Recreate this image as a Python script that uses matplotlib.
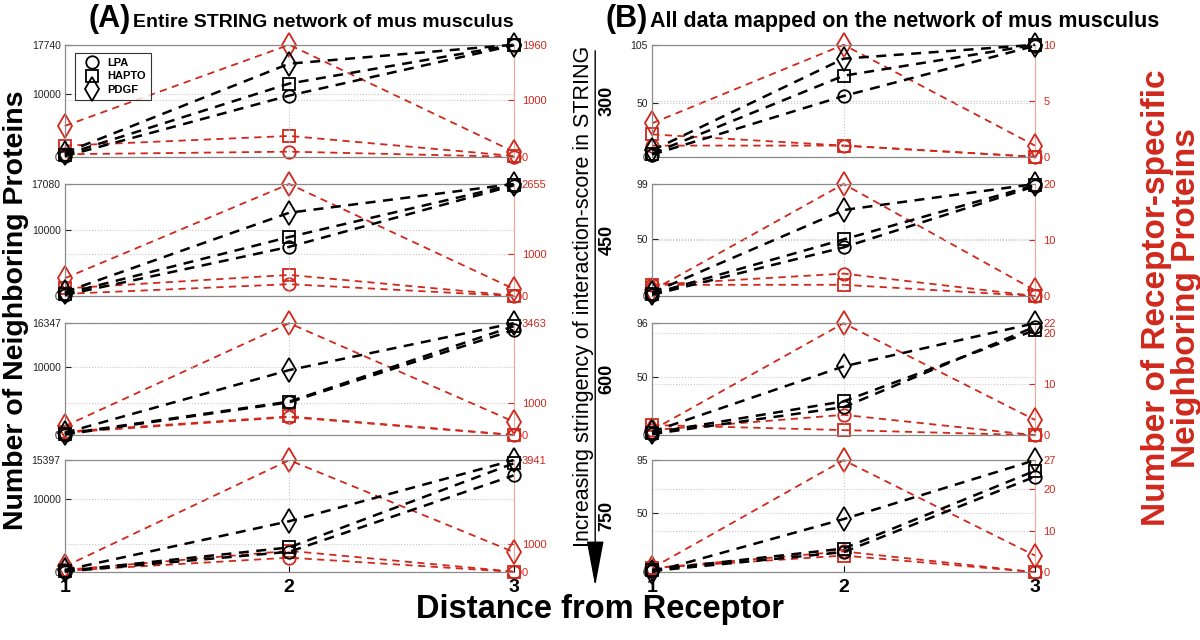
import matplotlib
matplotlib.use("Agg")
import matplotlib.pyplot as plt
from matplotlib.lines import Line2D
from matplotlib.patches import FancyArrowPatch

plt.rcParams['font.family'] = ['Liberation Sans', 'DejaVu Sans']

distance = [1, 2, 3]
thresholds = ['300', '450', '600', '750']
receptors = ['LPA', 'HAPTO', 'PDGF']

# panel A: entire STRING network, one row per threshold
a_lpa = [[100, 9700, 17650], [150, 7500, 16850], [100, 4800, 15350], [80, 2800, 13300]]
a_hapto = [[350, 11600, 17740], [350, 9000, 17000], [200, 4900, 15900], [150, 3400, 14950]]
a_pdgf = [[650, 14750, 17740], [600, 12700, 17080], [350, 9500, 16347], [300, 7000, 15397]]
a_lpa_spec = [[45, 90, 0], [50, 280, 0], [80, 560, 5], [50, 510, 10]]
a_hapto_spec = [[195, 365, 15], [180, 500, 10], [110, 580, 10], [80, 750, 20]]
a_pdgf_spec = [[540, 1960, 90], [420, 2655, 170], [280, 3463, 420], [200, 3941, 710]]
a_left_max = [17740, 17080, 16347, 15397]
a_right_max = [1960, 2655, 3463, 3941]

# panel B: all data mapped on the network
b_lpa = [[2, 57, 104], [1, 43, 97], [1, 24, 93], [1, 17, 81]]
b_hapto = [[3, 76, 105], [2, 50, 98], [2, 29, 90], [2, 20, 86]]
b_pdgf = [[6, 92, 105], [3, 76, 99], [3, 59, 96], [0, 45, 95]]
b_lpa_spec = [[1, 1, 0], [2, 4, 0], [1, 4, 0], [1, 5, 0]]
b_hapto_spec = [[2, 1, 0], [2, 2, 0], [2, 1, 0], [1, 4, 0]]
b_pdgf_spec = [[3, 10, 1], [1, 20, 1], [1, 22, 3], [1, 27, 4]]
b_left_max = [105, 99, 96, 95]
b_right_max = [10, 20, 22, 27]

RED = '#d0281c'
markers = ['o', 's', 'd']
msizes = [9, 8, 12]

fig = plt.figure(figsize=(12, 6.4), dpi=100)

row_bottom = [0.755, 0.5375, 0.320, 0.106]
row_h = 0.175
panels = [
    dict(left=0.054, width=0.374, black=[a_lpa, a_hapto, a_pdgf],
         red=[a_lpa_spec, a_hapto_spec, a_pdgf_spec],
         lmax=a_left_max, rmax=a_right_max, lstep=10000, rstep=[1000] * 4),
    dict(left=0.5435, width=0.319, black=[b_lpa, b_hapto, b_pdgf],
         red=[b_lpa_spec, b_hapto_spec, b_pdgf_spec],
         lmax=b_left_max, rmax=b_right_max, lstep=50, rstep=[5, 10, 10, 10]),
]

for p_i, p in enumerate(panels):
    for r in range(4):
        ax = fig.add_axes([p['left'], row_bottom[r], p['width'], row_h])
        ax2 = ax.twinx()
        for k in range(3):
            ax2.plot(distance, p['red'][k][r], ls=(0, (4, 3)), lw=1.3, color=RED,
                     marker=markers[k], ms=msizes[k], mfc='none', mec=RED, mew=1.3,
                     clip_on=False, zorder=3)
            ax.plot(distance, p['black'][k][r], ls=(0, (4, 3)), lw=1.8, color='black',
                    marker=markers[k], ms=msizes[k], mfc='none', mec='black', mew=1.3,
                    clip_on=False, zorder=3)
        lmax = p['lmax'][r]
        rmax = p['rmax'][r]
        ax.set_xlim(1, 3)
        ax.set_ylim(0, lmax)
        ax2.set_ylim(0, rmax)
        ax.set_yticks([0, p['lstep'], lmax])
        ax.set_yticklabels(['0', str(p['lstep']), str(lmax)])
        step = p['rstep'][r]
        if p_i == 0:
            rt = [0, step, rmax]
        else:
            rt = sorted(set(list(range(0, rmax + 1, step)) + [rmax]))
        ax2.set_yticks(rt)
        ax.set_xticks(distance)
        ax.grid(True, ls=':', color='#c8c8c8', lw=0.8)
        ax2.grid(True, axis='y', ls=':', color='#c8c8c8', lw=0.8)
        ax.set_axisbelow(True)
        ax.tick_params(axis='y', direction='in', length=4, labelsize=7.5, pad=3, colors='#222222')
        ax2.tick_params(axis='y', direction='in', length=4, labelsize=8, pad=6,
                        colors=RED, labelcolor=RED)
        if r == 3:
            ax.tick_params(axis='x', direction='in', length=4, labelsize=14, pad=5)
            for lbl in ax.get_xticklabels():
                lbl.set_fontweight('bold')
        else:
            ax.tick_params(axis='x', direction='in', length=0, labelbottom=False)
        for s in ['left', 'top', 'bottom']:
            ax.spines[s].set_color('#8a8a8a')
            ax2.spines[s].set_color('#8a8a8a')
        ax.spines['right'].set_visible(False)
        ax2.spines['right'].set_color('#eaa898')
        ax.set_zorder(ax2.get_zorder() + 1)
        ax.patch.set_visible(False)

        if p_i == 0 and r == 0:
            handles = [Line2D([], [], ls='none', marker=m, ms=s, mfc='none', mec='black', mew=1.3)
                       for m, s in zip(markers, msizes)]
            leg = ax.legend(handles, receptors, loc='upper left', fontsize=8,
                            frameon=True, fancybox=False, edgecolor='black',
                            handletextpad=0.4, borderpad=0.5, labelspacing=0.3,
                            bbox_to_anchor=(0.01, 0.98))
            leg.get_frame().set_linewidth(0.8)
            for t in leg.get_texts():
                t.set_fontweight('bold')

        if p_i == 1:
            fig.text(0.506, row_bottom[r] + row_h / 2, thresholds[r], rotation=90,
                     ha='center', va='center', fontsize=13, fontweight='bold')

# titles
fig.text(0.109, 0.958, '(A)', ha='right', va='baseline', fontsize=22, fontweight='bold')
fig.text(0.111, 0.958, 'Entire STRING network of mus musculus', ha='left', va='baseline',
         fontsize=14, fontweight='bold')
fig.text(0.540, 0.958, '(B)', ha='right', va='baseline', fontsize=22, fontweight='bold')
fig.text(0.542, 0.958, 'All data mapped on the network of mus musculus', ha='left',
         va='baseline', fontsize=15.5, fontweight='bold')

# axis labels
fig.text(0.013, 0.515, 'Number of Neighboring Proteins', rotation=90, ha='center',
         va='center', fontsize=20.5, fontweight='bold')
fig.text(0.976, 0.535, 'Number of Receptor-specific\nNeighboring Proteins', rotation=90,
         ha='center', va='center', fontsize=24, fontweight='bold', color=RED,
         multialignment='center', linespacing=0.95)
fig.text(0.5, 0.047, 'Distance from Receptor', ha='center', va='center', fontsize=23.5,
         fontweight='bold')

# stringency arrow in the middle
fig.text(0.486, 0.537, 'Increasing stringency of interaction-score in STRING', rotation=90,
         ha='center', va='center', fontsize=15.5)
arrow = FancyArrowPatch((0.496, 0.925), (0.496, 0.08), transform=fig.transFigure,
                        arrowstyle='-|>,head_length=1.6,head_width=0.3', mutation_scale=18,
                        lw=1.0, color='black')
fig.add_artist(arrow)

fig.savefig('out.png', dpi=100)
